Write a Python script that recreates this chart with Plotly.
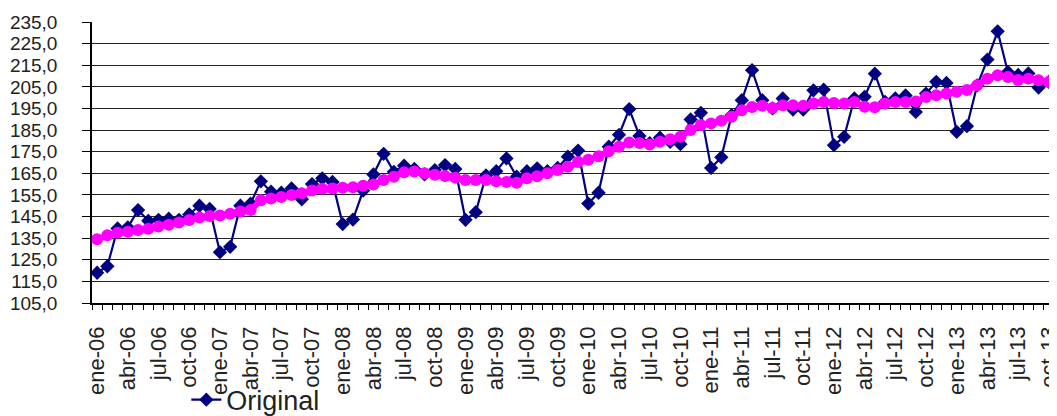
import plotly.graph_objects as go

month_names = ["ene", "feb", "mar", "abr", "may", "jun", "jul", "ago", "sep", "oct", "nov", "dic"]
years = ["06", "07", "08", "09", "10", "11", "12", "13"]
categories = [f"{m}-{y}" for y in years for m in month_names][:94]

original = [
    119.0, 122.0, 139.5, 140.0, 148.0, 143.0, 143.5, 144.0, 143.5, 146.0, 150.0, 148.5,
    128.5, 131.0, 150.0, 151.0, 161.3, 156.5, 156.0, 158.0, 153.0, 160.0, 162.7, 161.0,
    141.5, 143.6, 157.0, 164.5, 174.0, 165.7, 168.5, 167.0, 164.5, 166.5, 168.8, 167.0,
    143.5, 147.0, 164.0, 166.0, 171.9, 163.4, 166.0, 167.3, 166.0, 167.5, 172.7, 175.5,
    151.0, 156.0, 177.3, 182.8, 194.7, 182.3, 179.0, 181.5, 179.5, 178.5, 189.9, 193.0,
    167.5, 172.4, 191.9, 198.8, 212.7, 198.8, 195.0, 199.6, 194.5, 194.5, 203.4, 203.7,
    178.0, 181.9, 199.6, 200.4, 211.1, 198.0, 199.6, 201.0, 193.4, 201.9, 207.3, 206.8,
    184.2, 186.8, 205.7, 217.6, 230.7, 211.9, 210.5, 211.2, 204.7, 207.3,
]

tendencia = [
    134.5, 136.3, 137.5, 138.0, 138.8, 139.3, 140.4, 141.2, 142.2, 143.4, 144.5, 145.2,
    145.5, 146.3, 147.3, 148.0, 152.5, 153.3, 154.0, 155.0, 155.8, 157.0, 157.8, 158.0,
    158.3, 158.6, 159.2, 159.8, 161.9, 163.4, 165.5, 165.8, 165.0, 164.3, 163.8, 163.0,
    161.9, 161.9, 161.9, 161.3, 161.0, 160.6, 162.7, 163.6, 165.0, 166.5, 168.0, 170.2,
    171.3, 172.9, 175.2, 177.3, 179.2, 179.0, 178.3, 179.6, 180.8, 181.9, 185.0, 187.3,
    188.1, 189.3, 191.2, 194.2, 195.7, 196.3, 195.2, 196.5, 196.5, 196.2, 197.3, 198.0,
    197.5, 197.3, 198.0, 195.8, 195.6, 197.3, 198.0, 198.0, 198.2, 200.3, 201.1, 201.9,
    202.7, 203.5, 205.7, 208.8, 210.4, 209.6, 208.2, 208.8, 208.1, 207.3,
]

y_ticks = [105, 115, 125, 135, 145, 155, 165, 175, 185, 195, 205, 215, 225, 235]

tick_text = [c if i % 3 == 0 else "" for i, c in enumerate(categories)]

fig = go.Figure()
fig.add_trace(go.Scatter(
    x=categories, y=original, name="Original", mode="lines+markers",
    line=dict(color="#000080", width=2.2),
    marker=dict(symbol="diamond", size=11, color="#000080"),
))
fig.add_trace(go.Scatter(
    x=categories, y=tendencia, name="Tendencia", mode="lines+markers",
    line=dict(color="#FF00FF", width=6),
    marker=dict(symbol="circle", size=12, color="#FF00FF"),
    showlegend=False,
))

fig.update_layout(
    width=1049, height=408,
    margin=dict(l=84, r=0, t=14, b=113),
    paper_bgcolor="white", plot_bgcolor="white",
    font=dict(family="Liberation Sans, Arial, sans-serif", color="#222222"),
    separators=", ",
    showlegend=True,
    legend=dict(
        orientation="h", xref="container", yref="container",
        x=0.170, y=0.039, xanchor="left", yanchor="middle",
        font=dict(size=27, color="#222222"),
        bgcolor="rgba(0,0,0,0)",
    ),
)

fig.update_xaxes(
    type="category", range=[-0.5, 93.8], automargin=False,
    tickmode="array", tickvals=categories, ticktext=tick_text,
    tickangle=-90, tickson="boundaries",
    ticks="outside", ticklen=5, tickwidth=1, tickcolor="#000000",
    ticklabelstandoff=13,
    tickfont=dict(size=22, color="#222222"),
    showline=True, linecolor="#000000", linewidth=1.5,
    showgrid=False, zeroline=False,
)

fig.update_yaxes(
    range=[105, 235], automargin=False, tickmode="array", tickvals=y_ticks,
    tickformat=".1f",
    ticks="outside", ticklen=8, tickwidth=1.3, tickcolor="#000000",
    ticklabelstandoff=21,
    tickfont=dict(size=19, color="#222222"),
    showline=True, linecolor="#000000", linewidth=1.5,
    showgrid=True, gridcolor="#222222", gridwidth=1.3,
    zeroline=False,
)

fig.write_html("out.html")
